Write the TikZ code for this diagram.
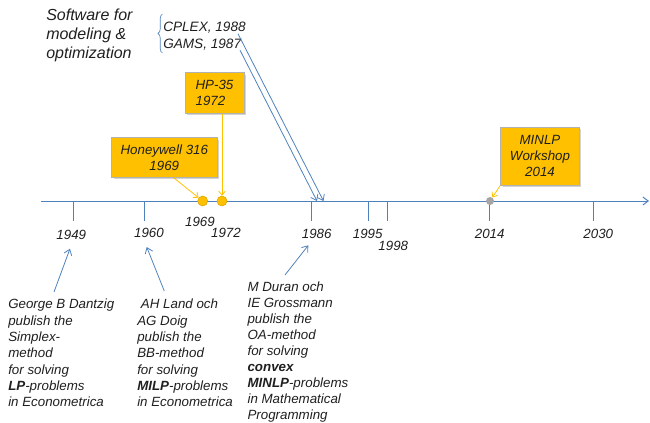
\documentclass[tikz,border=0pt]{standalone}
\usepackage{fontspec}
\setmainfont{Liberation Sans}
\usetikzlibrary{arrows.meta,shadows,decorations.pathreplacing}
\definecolor{lineblue}{HTML}{4F81BD}
\definecolor{boxgold}{HTML}{FFC000}
\definecolor{dotgray}{HTML}{A5A5A5}
\definecolor{inkgray}{HTML}{1F1F1F}

\begin{document}
\begin{tikzpicture}[x=0.75pt,y=-0.75pt,
  >={Straight Barb[length=4pt,width=6pt]},
  every node/.style={font=\fontsize{10}{12.2}\selectfont\itshape,text=inkgray,inner sep=0pt},
  axisline/.style={lineblue,line width=0.75pt},
  pointer/.style={lineblue,line width=0.6pt,->},
  goldpointer/.style={boxgold,line width=0.6pt,-{Straight Barb[length=3pt,width=5pt]}},
  eventbox/.style={fill=boxgold,draw=black!30,line width=0.6pt,align=center,
    drop shadow={shadow xshift=1.5pt,shadow yshift=-1.5pt,opacity=0.35}},
  year/.style={anchor=base},
  note/.style={anchor=north west,align=left}]

\useasboundingbox (0,0) rectangle (650,422);

% time axis and ticks
\coordinate (axstart) at (41,201);
\coordinate (axend) at (649,201);
\coordinate (y1987) at (317,201);
\coordinate (y1988) at (323.5,201);
\draw[axisline,->] (axstart) -- (axend);
\draw[axisline] (73,201) -- (73,220.5);
\draw[axisline] (144,201) -- (144,220.5);
\draw[axisline] (311,201) -- (311,220.5);
\draw[axisline] (368.5,201) -- (368.5,220.5);
\draw[axisline] (387.5,201) -- (387.5,220.5);
\draw[axisline] (489.5,201) -- (489.5,220.5);
\draw[axisline] (593.5,201) -- (593.5,220.5);

% years
\node[year] (l1949) at (71.3,239) {1949};
\node[year] (l1960) at (149,237.7) {1960};
\node[year] (l1969) at (200,226) {1969};
\node[year] (l1972) at (226,237.7) {1972};
\node[year] (l1986) at (316.7,238) {1986};
\node[year] (l1995) at (367.7,238) {1995};
\node[year] (l1998) at (393.3,250) {1998};
\node[year] (l2014) at (489.7,238) {2014};
\node[year] (l2030) at (598.3,238) {2030};

% events on the axis
\node[circle,fill=boxgold,draw=boxgold!85!black,line width=0.4pt,minimum size=7.5pt] (d1969) at (202.7,201) {};
\node[circle,fill=boxgold,draw=boxgold!85!black,line width=0.4pt,minimum size=7.5pt] (d1972) at (222,201) {};
\node[circle,fill=dotgray,minimum size=6pt] (d2014) at (490,201) {};

\node[eventbox,minimum width=79pt,minimum height=29.7pt] (hw) at (164.3,157.5) {Honeywell 316\\1969};
\node[eventbox,minimum width=44.3pt,minimum height=30.5pt,align=left] (hp) at (214.5,93) {HP-35\\1972};
\node[eventbox,minimum width=59pt,minimum height=43.3pt] (minlp) at (540,156.2) {MINLP\\Workshop\\2014};

\draw[goldpointer] ([xshift=7pt]hw.south) -- (d1969);
\draw[goldpointer] (hp.south -| d1972) -- (d1972);
\draw[goldpointer] (minlp.south west) -- (d2014);

% software
\node[note,font=\fontsize{12}{14.25}\selectfont\itshape] (sw) at (46,8.5) {Software for\\modeling \&\\optimization};
\draw[lineblue,line width=0.5pt,decorate,decoration={brace,amplitude=3.4pt}] (162.5,53) -- (162.5,14);
\node[anchor=base west,font=\fontsize{10.2}{12}\selectfont\itshape] (cplex) at (163,31.7) {CPLEX, 1988};
\node[anchor=base west,font=\fontsize{10.2}{12}\selectfont\itshape] (gams) at (163,48.3) {GAMS, 1987};
\draw[pointer] ([xshift=-6pt]cplex.south east) -- (y1988);
\draw[pointer] ([xshift=-1pt]gams.south east) -- (y1987);

% publications
\node[note] (dantzig) at (8,299) {George B Dantzig\\publish the\\Simplex-\\method\\for solving\\\textbf{LP}-problems\\in Econometrica};
\node[note] (landdoig) at (137,299) {\ AH Land och\\AG Doig\\publish the\\BB-method\\for solving\\\textbf{MILP}-problems\\in Econometrica};
\node[note,font=\fontsize{10}{12}\selectfont\itshape] (duran) at (247.3,282) {M Duran och\\IE Grossmann\\publish the\\OA-method\\for solving\\\textbf{convex}\\\textbf{MINLP}-problems\\in Mathematical\\Programming};

\coordinate (dzfoot) at (54,292);
\coordinate (ldfoot) at (164.3,291);
\coordinate (drfoot) at (285,275);
\draw[pointer] (dzfoot) -- ([shift={(-1pt,-7pt)}]l1949.south);
\draw[pointer] (ldfoot) -- ([shift={(-1.7pt,-6.7pt)}]l1960.south);
\draw[pointer] (drfoot) -- ([shift={(-6.3pt,-5.2pt)}]l1986.south);

\end{tikzpicture}
\end{document}
